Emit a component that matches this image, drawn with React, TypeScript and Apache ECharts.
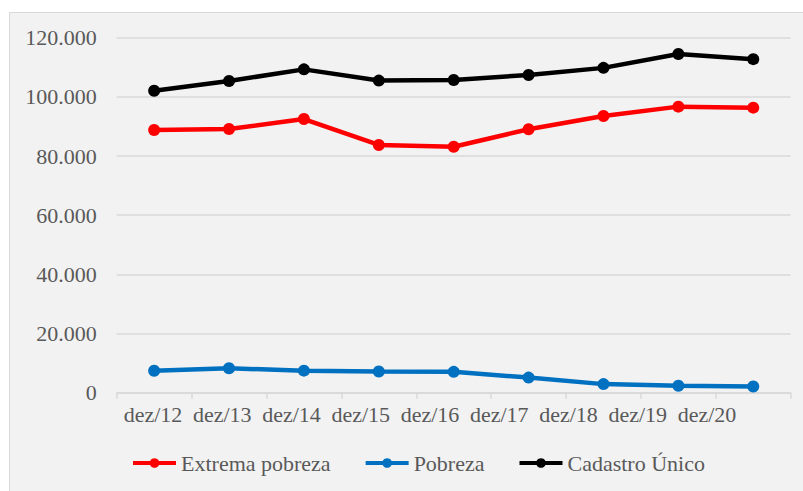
import React, { useEffect, useRef } from "react";
import * as echarts from "echarts";

const categories = ["dez/12", "dez/13", "dez/14", "dez/15", "dez/16", "dez/17", "dez/18", "dez/19", "dez/20"];
const tickLabels = ["dez/12", "dez/13", "dez/14", "dez/15", "dez/16", "dez/17", "dez/18", "dez/19", "dez/20"];
const extremaPobreza = [88800, 89150, 92500, 83750, 83150, 89050, 93550, 96700, 96350];
const pobreza = [7400, 8250, 7450, 7150, 7050, 5100, 2900, 2350, 2100];
const cadastroUnico = [102050, 105350, 109300, 105500, 105700, 107400, 109800, 114500, 112750];
const seriesNames = ["Extrema pobreza", "Pobreza", "Cadastro Único"];
const seriesColors = ["#ff0000", "#0070c0", "#000000"];

const FONT = "'Liberation Serif', 'Times New Roman', serif";
const LABEL_START = 0.524;

function fmt(v: number) {
  return String(Math.round(v)).replace(/\B(?=(\d{3})+(?!\d))/g, ".");
}

export default function App() {
  const ref = useRef<HTMLDivElement>(null);
  useEffect(() => {
    if (!ref.current) return;
    const chart = echarts.init(ref.current, undefined, { renderer: "svg" });
    const seriesData = [extremaPobreza, pobreza, cadastroUnico];
    chart.setOption({
      animation: false,
      backgroundColor: "#ffffff",
      graphic: [
        {
          type: "rect",
          z: -10,
          silent: true,
          shape: { x: 9.5, y: 12.5, width: 820, height: 500 },
          style: { fill: "#f2f2f2", stroke: "#d9d9d9", lineWidth: 1 },
        },
      ],
      grid: { left: 116.7, right: 12.3, top: 37.7, bottom: 98.3, containLabel: false },
      legend: {
        left: 131,
        top: 452,
        padding: 0,
        itemWidth: 43,
        itemHeight: 12,
        itemGap: 33,
        lineStyle: { width: 4 },
        textStyle: { fontFamily: FONT, fontSize: 22, color: "#595959" },
        data: seriesNames,
      },
      xAxis: [
        {
          type: "category",
          data: categories,
          boundaryGap: true,
          axisLine: { lineStyle: { color: "#d9d9d9", width: 1.5 } },
          axisTick: { show: true, length: 6, lineStyle: { color: "#d9d9d9", width: 1.5 } },
          axisLabel: { show: false },
          splitLine: { show: false },
        },
        {
          type: "value",
          position: "bottom",
          min: 0,
          max: 674 / 69.25,
          axisLine: { show: false },
          axisTick: { show: false },
          splitLine: { show: false },
          axisLabel: {
            show: true,
            customValues: tickLabels.map((_, i) => LABEL_START + i),
            formatter: (v: number) => tickLabels[Math.round(v - LABEL_START)] ?? "",
            margin: 11,
            fontFamily: FONT,
            fontSize: 22,
            color: "#595959",
            showMinLabel: true,
            showMaxLabel: true,
          },
        },
      ],
      yAxis: {
        type: "value",
        min: 0,
        max: 120000,
        interval: 20000,
        axisLine: { show: false },
        axisTick: { show: false },
        splitLine: { lineStyle: { color: "#d9d9d9", width: 1.5 } },
        axisLabel: {
          margin: 20,
          fontFamily: FONT,
          fontSize: 22,
          color: "#595959",
          formatter: (v: number) => fmt(v),
        },
      },
      series: seriesNames.map((name, i) => ({
        name,
        type: "line",
        xAxisIndex: 0,
        data: seriesData[i],
        symbol: "circle",
        symbolSize: 12,
        showSymbol: true,
        color: seriesColors[i],
        lineStyle: { width: 4.5, color: seriesColors[i] },
        itemStyle: { color: seriesColors[i] },
        z: i === 2 ? 5 : 3,
      })),
    });
    return () => chart.dispose();
  }, []);
  return (
    <div
      ref={ref}
      style={{ position: "fixed", left: 0, top: 0, width: 803, height: 491 }}
    />
  );
}
